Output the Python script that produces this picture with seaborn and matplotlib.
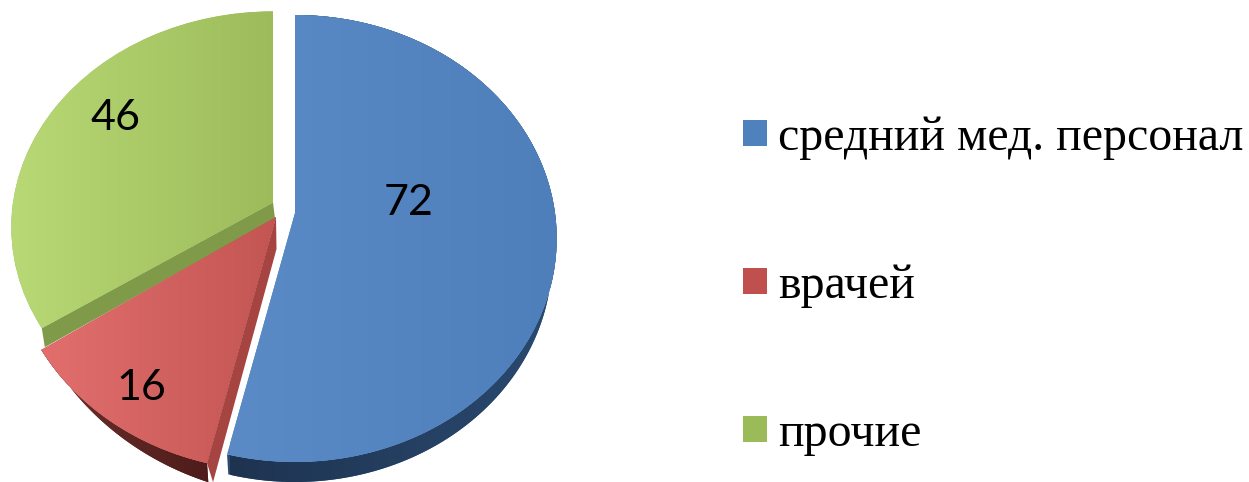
import numpy as np
import matplotlib
matplotlib.use("Agg")
import matplotlib.pyplot as plt
import seaborn as sns
from matplotlib.colors import LinearSegmentedColormap
from matplotlib.patches import Patch, Polygon
from matplotlib.transforms import Transform

categories = ["средний мед. персонал", "врачей", "прочие"]
values = [72, 16, 46]
legend_colors = ["#4f81bd", "#c0504d", "#9bbb59"]

sns.set_theme(style="white")
W, H = 1249, 482
fig = plt.figure(figsize=(W / 100, H / 100), dpi=100, facecolor="white")
ax = fig.add_axes([0, 0, 1, 1])

RX, RY, P = 261.3, 220.6, 0.1141


class Persp(Transform):
    """Tilted-disc projection of the unit pie into pixel-like data units."""
    input_dims = output_dims = 2
    is_affine = False
    has_inverse = False

    def __init__(self, cx, cy, sx=1.0, sy=1.0):
        super().__init__()
        self.cx, self.cy, self.sx, self.sy = cx, cy, sx, sy

    def transform_non_affine(self, v):
        v = np.asarray(v, float)
        w = 1 + P * v[:, 1]
        return np.column_stack([self.cx + self.sx * RX * v[:, 0] / w,
                                self.cy - self.sy * RY * v[:, 1] / w])


wedges, _ = ax.pie(values, colors=legend_colors, startangle=90,
                   counterclock=False, radius=1)
ax.set_aspect("auto")
ax.set_xlim(0, W)
ax.set_ylim(H, 0)
ax.autoscale(False)
ax.axis("off")

T = [Persp(295, 213, 0.995, 1.0), Persp(276, 217, 1.01, 1.02), Persp(273, 202.5, 0.995, 0.965)]


def gradient(clip, x0, x1, c0, c1, z):
    cmap = LinearSegmentedColormap.from_list("g", [c0, c1])
    im = ax.imshow(np.linspace(0, 1, 256)[None, :], cmap=cmap, aspect="auto",
                   extent=(x0, x1, H, 0), zorder=z, interpolation="bilinear")
    im.set_clip_path(clip)
    return im


def arc(i, n=160):
    t1, t2 = np.radians(wedges[i].theta1), np.radians(wedges[i].theta2)
    t = np.linspace(t1, t2, n)
    return T[i].transform(np.column_stack([np.cos(t), np.sin(t)]))


def shift(pts, i, d):
    out = pts.copy()
    out[:, 0] -= 0.018 * (pts[:, 0] - T[i].cx)
    out[:, 1] += d
    return out


def wall(i, c0, c1, x0, x1, d=20, z=1):
    a = arc(i)
    pts = np.vstack([a, shift(a, i, d)[::-1]])
    p = Polygon(pts, closed=True, fc=c1, ec="none", zorder=z)
    ax.add_patch(p)
    gradient(p, x0, x1, c0, c1, z + 0.1)


# outer walls
wall(0, "#1e3350", "#2a4a70", 230, 560, d=20, z=1)
wall(1, "#6f302d", "#4d1c1a", 40, 210, d=np.linspace(0, 19, 160), z=1)

# green radial wall, lying under the red slice
g_end = arc(2)[-1]
ax.add_patch(Polygon([(T[2].cx, T[2].cy), (T[2].cx + 2, T[2].cy + 16),
                      (g_end[0] + 3, g_end[1] + 19), g_end],
                     closed=True, fc="#7f9a48", ec="none", zorder=2))

# red radial wall, on the right side of the slice
r_edge = arc(1)[0] if arc(1)[0][1] > arc(1)[-1][1] else arc(1)[-1]
ax.add_patch(Polygon([(T[1].cx, T[1].cy), (T[1].cx + 0.5, T[1].cy + 32),
                      (r_edge[0] + 6, r_edge[1] + 19), r_edge],
                     closed=True, fc="#a64442", ec="none", zorder=6))

# top faces with their soft horizontal shading
faces = [(230, 560, "#5a8bc7", "#4f7fbb"),
         (40, 280, "#e26f6e", "#c25552"),
         (10, 275, "#b8d976", "#9dbb5a")]
for w, tr, (x0, x1, c0, c1), z in zip(wedges, T, faces, [4, 5, 3]):
    w.set_transform(tr + ax.transData)
    w.set_zorder(z)
    w.set_edgecolor("none")
    w.set_clip_on(False)
    gradient(w, x0, x1, c0, c1, z + 0.1)

# value labels
label_pos = [(409, 203), (141, 388), (115, 118)]
for v, (x, y) in zip(values, label_pos):
    ax.text(x, y, str(v), ha="center", va="center", fontsize=31,
            family="Lato", color="black", zorder=10)

# legend
handles = [Patch(fc=c, ec="none") for c in legend_colors]
fs = 34.5
leg = ax.legend(handles, categories, loc="upper left",
                bbox_to_anchor=(743 / W, 1 - 116 / H), frameon=False,
                prop={"family": "Liberation Serif", "size": fs},
                labelcolor="black",
                handlelength=0.5, handleheight=0.44, handletextpad=0.24,
                labelspacing=2.17, borderpad=0, borderaxespad=0)

fig.savefig("out.png", dpi=100, facecolor="white")
